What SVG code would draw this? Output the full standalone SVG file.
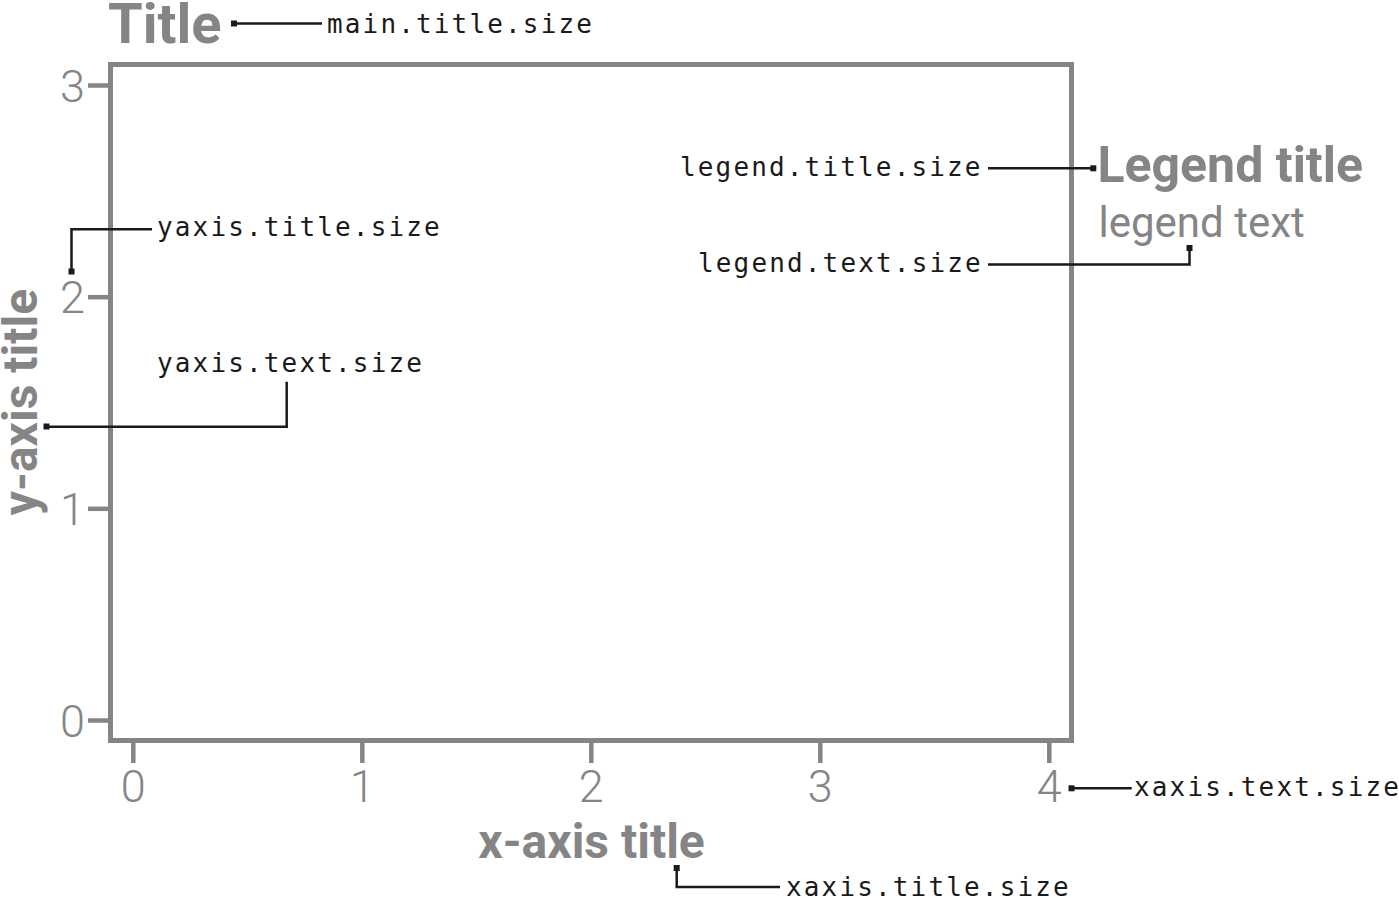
<svg xmlns="http://www.w3.org/2000/svg" width="1399" height="898" viewBox="0 0 1399 898">
<style>
.bg{fill:#ffffff}
.panel{fill:none;stroke:#858585;stroke-width:5}
.tick{stroke:#858585;stroke-width:4.5;fill:none}
.ticklab{font-family:Roboto,"Liberation Sans",sans-serif;font-weight:300;font-size:45px;fill:#858585}
.ttl{font-family:Roboto,"Liberation Sans",sans-serif;font-weight:700;fill:#858585}
.ltxt{font-family:Roboto,"Liberation Sans",sans-serif;font-weight:400;fill:#858585}
.mono{font-family:"DejaVu Sans Mono","Liberation Mono",monospace;font-size:26px;letter-spacing:2.15px;fill:#1a1a1a}
.conn{fill:none;stroke:#1a1a1a;stroke-width:2.5}
.dot{fill:#1a1a1a}
</style>
<rect class="bg" x="0" y="0" width="1399" height="898"/>
<g id="plot">
<rect class="panel" x="110.5" y="64.5" width="961" height="676"/>
<g id="yaxis">
<line class="tick" x1="88" y1="85.5" x2="110" y2="85.5"/>
<line class="tick" x1="88" y1="297.2" x2="110" y2="297.2"/>
<line class="tick" x1="88" y1="508.8" x2="110" y2="508.8"/>
<line class="tick" x1="88" y1="720.5" x2="110" y2="720.5"/>
<text class="ticklab" x="85" y="101.5" text-anchor="end">3</text>
<text class="ticklab" x="85" y="313.2" text-anchor="end">2</text>
<text class="ticklab" x="85" y="524.8" text-anchor="end">1</text>
<text class="ticklab" x="85" y="736.5" text-anchor="end">0</text>
</g>
<g id="xaxis">
<line class="tick" x1="133.3" y1="743" x2="133.3" y2="763"/>
<line class="tick" x1="362.3" y1="743" x2="362.3" y2="763"/>
<line class="tick" x1="591.3" y1="743" x2="591.3" y2="763"/>
<line class="tick" x1="820.3" y1="743" x2="820.3" y2="763"/>
<line class="tick" x1="1049.3" y1="743" x2="1049.3" y2="763"/>
<text class="ticklab" x="133.3" y="801.5" text-anchor="middle">0</text>
<text class="ticklab" x="362.3" y="801.5" text-anchor="middle">1</text>
<text class="ticklab" x="591.3" y="801.5" text-anchor="middle">2</text>
<text class="ticklab" x="820.3" y="801.5" text-anchor="middle">3</text>
<text class="ticklab" x="1049.3" y="801.5" text-anchor="middle">4</text>
</g>
</g>
<g id="title"><text class="ttl" x="108" y="43" font-size="56">Title</text></g>
<g id="ytitle"><text class="ttl" font-size="48" text-anchor="middle" transform="translate(37,402) rotate(-90)">y-axis title</text></g>
<g id="xtitle"><text class="ttl" x="591.5" y="857.7" font-size="48" text-anchor="middle">x-axis title</text></g>
<g id="legend">
<text class="ttl" x="1097.5" y="182" font-size="50">Legend title</text>
<text class="ltxt" x="1098.5" y="237" font-size="42">legend text</text>
</g>
<g id="labels">
<text class="mono" x="327" y="33">main.title.size</text>
<text class="mono" x="157" y="236">yaxis.title.size</text>
<text class="mono" x="157" y="372">yaxis.text.size</text>
<text class="mono" x="680" y="176">legend.title.size</text>
<text class="mono" x="698" y="272">legend.text.size</text>
<text class="mono" x="786" y="896">xaxis.title.size</text>
<text class="mono" x="1134" y="796">xaxis.text.size</text>
</g>
<g id="connectors">
<polyline class="conn" points="234,23.5 322,23.5"/>
<rect class="dot" x="231" y="20.5" width="6" height="6"/>
<polyline class="conn" points="71.5,271.5 71.5,229.3 152,229.3"/>
<rect class="dot" x="68.5" y="268.5" width="6" height="6"/>
<polyline class="conn" points="46.5,426.8 286.7,426.8 286.7,381.7"/>
<rect class="dot" x="43.5" y="423.5" width="6" height="6"/>
<polyline class="conn" points="988,168.3 1093.3,168.3"/>
<rect class="dot" x="1090.3" y="165.3" width="6" height="6"/>
<polyline class="conn" points="988,264.5 1189.5,264.5 1189.5,249"/>
<rect class="dot" x="1186.5" y="245" width="6" height="6"/>
<polyline class="conn" points="676.7,868 676.7,887 780,887"/>
<rect class="dot" x="673.7" y="865" width="6" height="6"/>
<polyline class="conn" points="1071.5,788.3 1131.7,788.3"/>
<rect class="dot" x="1068.5" y="785.3" width="6" height="6"/>
</g>
</svg>
